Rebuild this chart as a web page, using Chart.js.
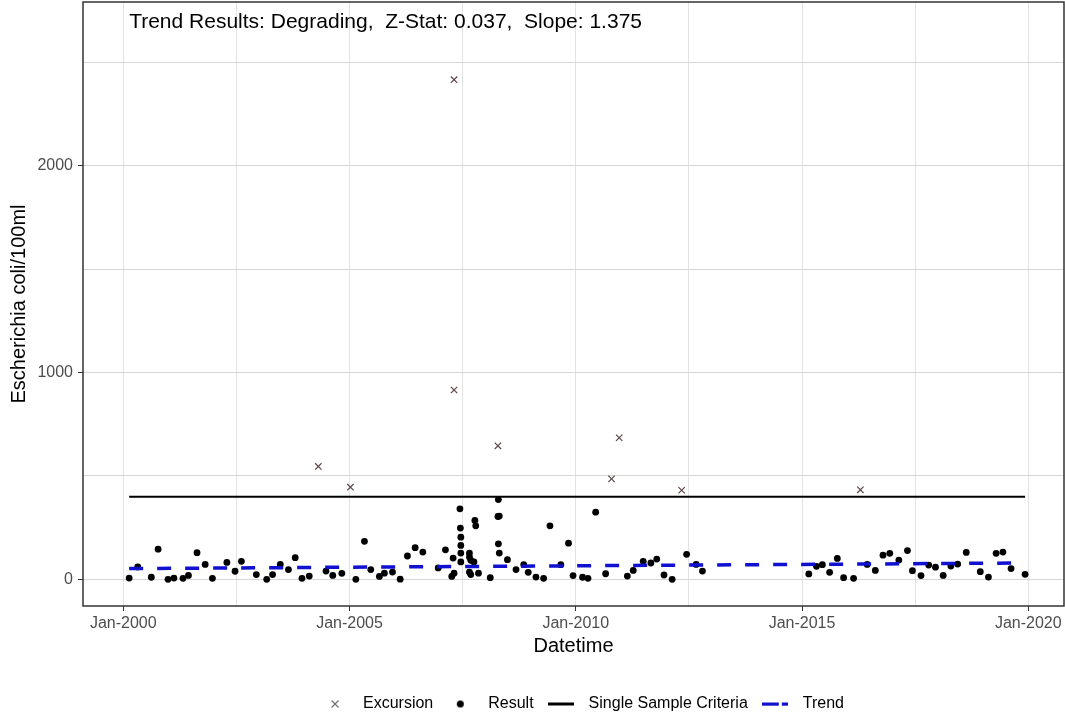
<!DOCTYPE html>
<html>
<head>
<meta charset="utf-8">
<script src="https://cdn.jsdelivr.net/npm/chart.js@4"></script>
<style>
  html, body { margin: 0; padding: 0; background: #fff; }
  #wrap { width: 1065px; height: 717px; }
</style>
</head>
<body>
<div id="wrap"><canvas id="grafico"></canvas></div>
<script>
// datas em anos decimais
const resultDates = [
  2000.13, 2000.32, 2000.62, 2000.77, 2000.99, 2001.12, 2001.32, 2001.44, 2001.63, 2001.81,
  2001.97, 2002.29, 2002.47, 2002.61, 2002.94, 2003.17, 2003.30, 2003.47, 2003.65, 2003.80,
  2003.95, 2004.11, 2004.48, 2004.63, 2004.83, 2005.14, 2005.33, 2005.47, 2005.66, 2005.77,
  2005.95, 2006.12, 2006.28, 2006.45, 2006.62, 2006.96, 2007.12, 2007.26, 2007.29, 2007.31,
  2007.44, 2007.45, 2007.46, 2007.46, 2007.46, 2007.46, 2007.65, 2007.65, 2007.65, 2007.68,
  2007.68, 2007.75, 2007.77, 2007.79, 2007.85, 2008.11, 2008.29, 2008.28, 2008.31, 2008.29,
  2008.31, 2008.49, 2008.68, 2008.85, 2008.95, 2009.12, 2009.29, 2009.43, 2009.67, 2009.84,
  2009.94, 2010.15, 2010.27, 2010.44, 2010.66, 2011.14, 2011.27, 2011.49, 2011.66, 2011.79,
  2011.95, 2012.13, 2012.45, 2012.66, 2012.80, 2015.15, 2015.32, 2015.45, 2015.61, 2015.78,
  2015.92, 2016.14, 2016.44, 2016.62, 2016.79, 2016.94, 2017.14, 2017.33, 2017.44, 2017.63,
  2017.80, 2017.95, 2018.12, 2018.29, 2018.44, 2018.63, 2018.94, 2019.12, 2019.29, 2019.44,
  2019.62, 2019.93
];
const resultValues = [
  6, 60, 10, 146, 0, 6, 5, 19, 129, 72,
  5, 82, 39, 87, 23, 0, 23, 72, 47, 105,
  5, 16, 40, 19, 29, 0, 184, 47, 14, 30,
  35, 1, 113, 153, 132, 55, 143, 14, 103, 30,
  341, 248, 204, 164, 127, 84, 127, 108, 35, 92,
  23, 84, 285, 259, 30, 8, 386, 304, 306, 172,
  127, 95, 47, 71, 34, 11, 5, 259, 71, 175,
  18, 10, 5, 325, 27, 16, 43, 87, 79, 98,
  21, 0, 121, 72, 40, 26, 63, 71, 34, 101,
  8, 5, 72, 43, 117, 126, 93, 139, 42, 18,
  69, 59, 19, 64, 74, 130, 37, 11, 126, 132,
  52, 24
];
const excursionDates = [2004.31, 2005.02, 2007.31, 2007.31, 2008.28, 2010.79, 2010.96, 2012.34, 2016.29];
const excursionValues = [546, 446, 2417, 916, 646, 486, 685, 431, 433];
const criteriaDates = [2000.13, 2019.93];
const criteriaValues = [400, 400];
const trendDates = [2000.13, 2019.93];
const trendValues = [52, 79];

const xTicks = [2000, 2002.5, 2005, 2007.5, 2010, 2012.5, 2015, 2017.5, 2020];
const xTickLabels = ['Jan-2000', '', 'Jan-2005', '', 'Jan-2010', '', 'Jan-2015', '', 'Jan-2020'];
const yTicks = [0, 500, 1000, 1500, 2000, 2500];
const yTickLabels = ['0', '', '1000', '', '2000', ''];
const seriesNames = ['Excursion', 'Result', 'Single Sample Criteria', 'Trend'];
const trendText = 'Trend Results: Degrading,  Z-Stat: 0.037,  Slope: 1.375';

function pontos(xs, ys) {
  return xs.map((x, i) => ({ x: x, y: ys[i] }));
}

// icones da legenda desenhados em canvas pequenos
function icone(w, h, desenho) {
  const c = document.createElement('canvas');
  c.width = w; c.height = h;
  desenho(c.getContext('2d'));
  return c;
}
const icones = [
  icone(10, 10, g => {
    g.strokeStyle = '#707070'; g.lineWidth = 1.2;
    g.beginPath(); g.moveTo(1.5, 1.5); g.lineTo(8.5, 8.5); g.moveTo(8.5, 1.5); g.lineTo(1.5, 8.5); g.stroke();
  }),
  icone(9, 9, g => {
    g.fillStyle = '#000';
    g.beginPath(); g.arc(4.5, 4.5, 3.5, 0, Math.PI * 2); g.fill();
  }),
  icone(26, 4, g => { g.fillStyle = '#000'; g.fillRect(0, 0.5, 26, 3); }),
  icone(26, 4, g => { g.fillStyle = '#1010d0'; g.fillRect(0, 0.5, 17, 3.2); g.fillRect(20, 0.5, 6, 3.2); })
];

const ajusteLegenda = {
  id: 'ajusteLegenda',
  afterLayout(chart) {
    const lg = chart.legend;
    const ca = chart.chartArea;
    const dx = (ca.left + ca.right) / 2 - (lg.left + lg.right) / 2 + 6;
    lg.left += dx; lg.right += dx;
    lg.top += 5; lg.bottom += 5;
  }
};

const moldura = {
  id: 'moldura',
  afterDraw(chart) {
    const { ctx, chartArea: ca } = chart;
    ctx.save();
    ctx.strokeStyle = '#333';
    ctx.lineWidth = 1.5;
    ctx.strokeRect(ca.left, ca.top, ca.right - ca.left, ca.bottom - ca.top);
    ctx.fillStyle = '#000';
    ctx.font = '21px "Liberation Sans", Arial, sans-serif';
    ctx.textBaseline = 'middle';
    ctx.textAlign = 'left';
    ctx.fillText(trendText, chart.scales.x.getPixelForValue(resultDates[0]), ca.top + 20);
    ctx.restore();
  }
};

Chart.defaults.font.family = '"Liberation Sans", Arial, sans-serif';

new Chart(document.getElementById('grafico'), {
  type: 'scatter',
  data: {
    datasets: [
      {
        label: seriesNames[0],
        data: pontos(excursionDates, excursionValues),
        pointStyle: 'crossRot',
        pointRadius: 4.5,
        borderColor: '#5c4646',
        backgroundColor: '#5c4646',
        borderWidth: 1.2
      },
      {
        label: seriesNames[1],
        data: pontos(resultDates, resultValues),
        pointRadius: 3.4,
        backgroundColor: '#000',
        borderWidth: 0
      },
      {
        label: seriesNames[2],
        data: pontos(criteriaDates, criteriaValues),
        showLine: true,
        pointRadius: 0,
        borderColor: '#000',
        borderWidth: 2
      },
      {
        label: seriesNames[3],
        data: pontos(trendDates, trendValues),
        showLine: true,
        pointRadius: 0,
        borderColor: '#1010d0',
        borderWidth: 3.5,
        borderDash: [14, 14],
        order: -1
      }
    ]
  },
  options: {
    responsive: true,
    maintainAspectRatio: false,
    animation: false,
    layout: { autoPadding: false, padding: { top: 2, right: 1, left: 0, bottom: 0 } },
    scales: {
      x: {
        type: 'linear',
        min: 1999.11,
        max: 2020.79,
        afterBuildTicks: s => { s.ticks = xTicks.map(v => ({ value: v })); },
        afterFit: s => { s.height = 78; s.paddingLeft = 0; s.paddingRight = 0; },
        ticks: {
          callback: (v, i) => xTickLabels[i],
          color: '#4d4d4d',
          font: { size: 16 },
          padding: 3,
          autoSkip: false,
          maxRotation: 0
        },
        grid: {
          color: '#e3e3e3',
          tickLength: 5,
          tickColor: ctx => xTickLabels[ctx.index] ? '#333' : 'rgba(0,0,0,0)'
        },
        border: { display: false },
        title: { display: true, text: 'Datetime', color: '#000', font: { size: 20 }, padding: { top: 0, bottom: 26 } }
      },
      y: {
        min: -129,
        max: 2793,
        afterBuildTicks: s => { s.ticks = yTicks.map(v => ({ value: v })); },
        afterFit: s => { s.width = 83; s.paddingTop = 0; s.paddingBottom = 0; },
        ticks: {
          callback: (v, i) => yTickLabels[i],
          color: '#4d4d4d',
          font: { size: 16 },
          padding: 5,
          autoSkip: false
        },
        grid: {
          color: '#d6d6d6',
          tickLength: 5,
          tickColor: ctx => yTickLabels[ctx.index] ? '#333' : 'rgba(0,0,0,0)'
        },
        border: { display: false },
        title: { display: true, text: 'Escherichia coli/100ml', color: '#000', font: { size: 20 }, padding: { top: 7, bottom: 0 } }
      }
    },
    plugins: {
      tooltip: { enabled: false },
      legend: {
        position: 'bottom',
        labels: {
          usePointStyle: true,
          pointStyleWidth: 40,
          padding: 7,
          color: '#1a1a1a',
          font: { size: 16 },
          generateLabels: chart => chart.data.datasets.map((ds, i) => ({
            text: ds.label,
            pointStyle: icones[i],
            fillStyle: 'rgba(0,0,0,0)',
            strokeStyle: 'rgba(0,0,0,0)',
            lineWidth: 0,
            hidden: false,
            datasetIndex: i
          }))
        }
      }
    }
  },
  plugins: [ajusteLegenda, moldura]
});
</script>
</body>
</html>
